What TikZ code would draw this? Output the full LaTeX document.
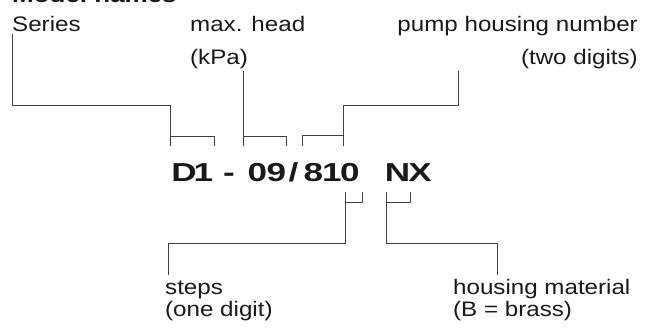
\documentclass[tikz,border=0pt]{standalone}
\usepackage{fontspec}
\setmainfont{Liberation Sans}
\newfontfamily\labf{Liberation Sans}[FakeStretch=1.15]
\newfontfamily\headf{Liberation Sans}[FakeStretch=1.18]
\newfontfamily\codef{Liberation Sans}[FakeStretch=1.35]
\begin{document}
\begin{tikzpicture}[x=1pt,y=-1pt,
  lab/.style={inner sep=0pt,font=\labf\fontsize{21}{22}\selectfont,text=black!90},
  code/.style={inner sep=0pt,anchor=base,font=\codef\bfseries\fontsize{26}{28}\selectfont,text=black!90},
  conn/.style={draw=black!75,line width=0.9pt}]
\useasboundingbox (0,0) rectangle (650,329);
% title (cut off at the top edge, as in the reference)
\node[inner sep=0pt,anchor=base west,font=\headf\bfseries\fontsize{22}{24}\selectfont,text=black!90] (title) at (12,2.8) {Model names};
% labels
\node[lab,anchor=base west] (series) at (12,32) {Series};
\node[lab,anchor=base west] (headA) at (190,32) {max. head};
\node[lab,anchor=base west] (headB) at (190,64.5) {(kPa)};
\node[lab,anchor=base east] (pumpA) at (638,31.5) {pump housing number};
\node[lab,anchor=base east] (pumpB) at (638,64) {(two digits)};
\node[lab,anchor=base west] (stepsA) at (165,294) {steps};
\node[lab,anchor=base west] (stepsB) at (165,316) {(one digit)};
\node[lab,anchor=base west] (matA) at (453,294) {housing material};
\node[lab,anchor=base west] (matB) at (453,316) {(B = brass)};
% code characters
\node[code] (cD) at (184,181) {D};
\node[code] (c1) at (203.5,181) {1};
\node[code] (cdash) at (229,181) {-};
\node[code] (c0a) at (257.5,181) {0};
\node[code] (c9) at (276.5,181) {9};
\node[code] (cslash) at (293.5,181) {/};
\node[code] (c8) at (313.5,181) {8};
\node[code] (c1b) at (332,181) {1};
\node[code] (c0b) at (350,181) {0};
\node[code] (cN) at (397.5,181) {N};
\node[code] (cX) at (420,181) {X};
% connector points
\coordinate (sTop) at (12,34);
\coordinate (sBend) at (12,105);
\coordinate (b1L) at (170,146);
\coordinate (b1R) at (214,146);
\coordinate (hTop) at (243,71);
\coordinate (b2L) at (243,146);
\coordinate (b2R) at (286,146);
\coordinate (pTop) at (458,71);
\coordinate (b3L) at (302,146);
\coordinate (b3R) at (343,146);
\coordinate (b4R) at (362,192);
\coordinate (b4L) at (345,192);
\coordinate (stEnd) at (168,275);
\coordinate (b5R) at (410,192);
\coordinate (b5L) at (386,192);
\coordinate (maEnd) at (497,275);
% series
\draw[conn] (sTop) -- (sBend) -| (b1L);
\draw[conn] (b1L |- 0,136) -- (b1R |- 0,136) -- (b1R);
% max head
\draw[conn] (hTop) -- (b2L);
\draw[conn] (b2L |- 0,136) -- (b2R |- 0,136) -- (b2R);
% pump housing
\draw[conn] (pTop) |- (b3R |- 0,105) -- (b3R);
\draw[conn] (b3R |- 0,135) -- (b3L |- 0,135) -- (b3L);
% steps
\draw[conn] (b4R) -- (b4R |- 0,202) -- (b4L |- 0,202) -- (b4L |- 0,243) -| (stEnd);
\draw[conn] (b4L) -- (b4L |- 0,202);
% housing material
\draw[conn] (b5R) -- (b5R |- 0,202) -- (b5L |- 0,202) -- (b5L |- 0,243) -| (maEnd);
\draw[conn] (b5L) -- (b5L |- 0,202);
\end{tikzpicture}
\end{document}
